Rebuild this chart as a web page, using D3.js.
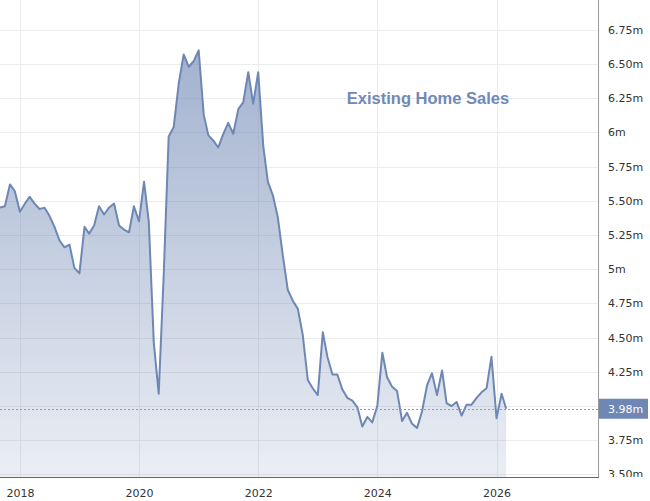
<!doctype html>
<html>
<head>
    <title>Existing Home Sales</title>
    <script src="https://d3js.org/d3.v7.min.js"></script>
    <style>
      body {
        padding: 0px;
        margin: 0px;
        background: #fff;
      }
      .grid line {
        stroke: #ececec;
        stroke-width: 1;
      }
      .axis text {
        font-family: "DejaVu Sans", sans-serif;
        font-size: 11px;
        fill: #333;
      }
      .axis path, .axis line {
        display: none;
      }
    </style>
</head>
<body>
  <div id="container"></div>
  <script>

  // monthly existing home sales (millions, SAAR), starting Sep 2017
  var startMonth = new Date(2017, 8, 1)
  var sales = [
    5.45, 5.46, 5.62, 5.57,
    5.42, 5.48, 5.53, 5.48, 5.44, 5.45, 5.39, 5.31, 5.21, 5.16, 5.18, 5.01,
    4.97, 5.31, 5.26, 5.32, 5.46, 5.40, 5.45, 5.48, 5.32, 5.29, 5.27, 5.46,
    5.35, 5.64, 5.35, 4.46, 4.09, 4.97, 5.97, 6.04, 6.36, 6.57, 6.48, 6.52,
    6.60, 6.13, 5.98, 5.94, 5.89, 5.99, 6.07, 5.99, 6.17, 6.22, 6.44, 6.21,
    6.44, 5.90, 5.64, 5.54, 5.38, 5.10, 4.85, 4.77, 4.71, 4.52, 4.19, 4.13,
    4.08, 4.54, 4.36, 4.23, 4.23, 4.12, 4.06, 4.04, 3.99, 3.85, 3.92, 3.88,
    4.00, 4.39, 4.21, 4.14, 4.11, 3.89, 3.95, 3.87, 3.84, 3.96, 4.15, 4.24,
    4.08, 4.26, 4.02, 4.00, 4.03, 3.93, 4.01, 4.01, 4.06, 4.10, 4.13, 4.36,
    3.91, 4.09, 3.98
  ]
  var yTicks = [3.5, 3.75, 4, 4.25, 4.5, 4.75, 5, 5.25, 5.5, 5.75, 6, 6.25, 6.5, 6.75]
  var xTickYears = [2018, 2020, 2022, 2024, 2026]
  var lastValue = 3.98
  var title = "Existing Home Sales"

  var data = sales.map(function(v, i) {
    return {date: d3.timeMonth.offset(startMonth, i), value: v}
  })

  var width = 650,
      height = 501,
      plotWidth = 598,
      plotHeight = 477
  var lineColor = "#6e87b4"

  var svg = d3.select("#container").append("svg")
      .attr("width", width)
      .attr("height", height)

  var x = d3.scaleTime()
      .domain([new Date(2017, 8, 1), new Date(2027, 8, 15)])
      .range([0, plotWidth])
  var y = d3.scaleLinear()
      .domain([3.481, 6.968])
      .range([plotHeight, 0])

  var defs = svg.append("defs")
  var grad = defs.append("linearGradient")
      .attr("id", "areaFill")
      .attr("gradientUnits", "userSpaceOnUse")
      .attr("x1", 0).attr("y1", 0)
      .attr("x2", 0).attr("y2", plotHeight)
  grad.append("stop").attr("offset", "0%")
      .attr("stop-color", lineColor).attr("stop-opacity", 0.7)
  grad.append("stop").attr("offset", "100%")
      .attr("stop-color", lineColor).attr("stop-opacity", 0.14)

  // clip for the right labels (in the axis group's own coordinates)
  defs.append("clipPath").attr("id", "labelClip")
    .append("rect")
      .attr("x", 0).attr("y", 0)
      .attr("width", width - plotWidth).attr("height", plotHeight)

  // grid
  var grid = svg.append("g").attr("class", "grid")
  grid.selectAll("line.h").data(yTicks)
    .enter().append("line")
      .attr("class", "h")
      .attr("x1", 0).attr("x2", plotWidth)
      .attr("y1", function(d) { return Math.round(y(d)) + 0.5 })
      .attr("y2", function(d) { return Math.round(y(d)) + 0.5 })
  grid.selectAll("line.v").data(xTickYears)
    .enter().append("line")
      .attr("class", "v")
      .attr("y1", 0).attr("y2", plotHeight)
      .attr("x1", function(d) { return Math.round(x(new Date(d, 0, 1))) + 0.5 })
      .attr("x2", function(d) { return Math.round(x(new Date(d, 0, 1))) + 0.5 })

  // area + line
  var area = d3.area()
      .x(function(d) { return x(d.date) })
      .y0(plotHeight)
      .y1(function(d) { return y(d.value) })
  var line = d3.line()
      .x(function(d) { return x(d.date) })
      .y(function(d) { return y(d.value) })

  svg.append("path")
      .datum(data)
      .attr("d", area)
      .attr("fill", "url(#areaFill)")
  svg.append("path")
      .datum(data)
      .attr("d", line)
      .attr("fill", "none")
      .attr("stroke", lineColor)
      .attr("stroke-width", 2)
      .attr("stroke-linejoin", "round")

  // last value dotted line
  svg.append("line")
      .attr("x1", 0).attr("x2", plotWidth)
      .attr("y1", Math.round(y(lastValue)) + 0.5)
      .attr("y2", Math.round(y(lastValue)) + 0.5)
      .attr("stroke", "#8f9cb8")
      .attr("stroke-dasharray", "2,2")

  // axes frame
  svg.append("line")
      .attr("x1", plotWidth + 0.5).attr("x2", plotWidth + 0.5)
      .attr("y1", 0).attr("y2", plotHeight)
      .attr("stroke", "#9a9a9a")
  svg.append("line")
      .attr("x1", 0).attr("x2", plotWidth + 1)
      .attr("y1", plotHeight + 0.5).attr("y2", plotHeight + 0.5)
      .attr("stroke", "#666")

  // right axis (the 4m label sits under the last value box)
  var fmt = function(d) {
    return (Number.isInteger(d) ? d : d.toFixed(2)) + "m"
  }
  var labelTicks = yTicks.filter(function(d) { return Math.abs(y(d) - y(lastValue)) > 12 })
  svg.append("g")
      .attr("class", "axis")
      .attr("clip-path", "url(#labelClip)")
      .attr("transform", "translate(" + plotWidth + ",0)")
      .call(d3.axisRight(y).tickValues(labelTicks).tickFormat(fmt).tickSize(0).tickPadding(10))

  // bottom axis
  svg.append("g")
      .attr("class", "axis")
      .attr("transform", "translate(0," + plotHeight + ")")
      .call(d3.axisBottom(x)
        .tickValues(xTickYears.map(function(d) { return new Date(d, 0, 1) }))
        .tickFormat(d3.timeFormat("%Y"))
        .tickSize(0).tickPadding(12))

  // last value label
  var ly = y(lastValue)
  svg.append("rect")
      .attr("x", plotWidth + 1).attr("y", ly - 10)
      .attr("width", 49).attr("height", 20)
      .attr("fill", lineColor)
  svg.append("text")
      .attr("x", plotWidth + 10).attr("y", ly)
      .attr("dy", "0.35em")
      .style("font-family", "DejaVu Sans, sans-serif")
      .style("font-size", "11px")
      .attr("fill", "#fff")
      .text(fmt(lastValue))

  // title
  svg.append("text")
      .attr("x", 428).attr("y", 104)
      .attr("text-anchor", "middle")
      .style("font-family", "Liberation Sans, Arial, sans-serif")
      .style("font-weight", "bold")
      .style("font-size", "16.5px")
      .attr("fill", "#7189b6")
      .text(title)

  </script>
</body>
</html>
